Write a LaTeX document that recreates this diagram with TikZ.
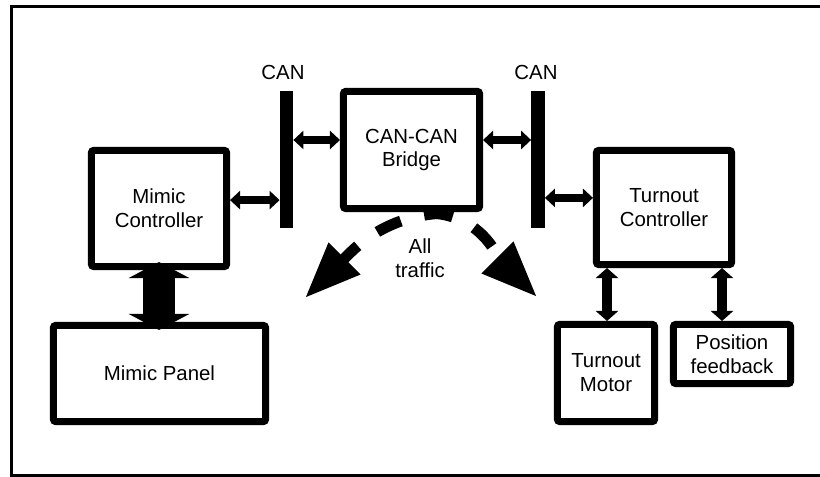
\documentclass[tikz,border=0pt]{standalone}
\usepackage{fontspec}
\setmainfont{Liberation Sans}
\usepackage{tikz}
\usetikzlibrary{shapes,arrows.meta}
\tikzstyle{block} = [rectangle, draw, line width=0.175cm, rounded corners=1.5pt, align=center,
inner sep=0pt, minimum width=3.375cm, minimum height=2.9cm, font=\fontsize{14.5}{17}\selectfont]
\tikzstyle{bus} = [rectangle, fill=black, inner sep=0pt, minimum width=0.33cm, minimum height=3.425cm]
\tikzstyle{tag} = [inner sep=0pt, align=center, font=\fontsize{14.5}{17}\selectfont]
\tikzstyle{link} = [draw, line width=0.2cm, arrows={Triangle[width=0.45cm,length=0.25cm]-Triangle[width=0.45cm,length=0.25cm]}]
\tikzstyle{servolink} = [draw, line width=0.27cm, arrows={Triangle[width=0.55cm,length=0.25cm]-Triangle[width=0.55cm,length=0.25cm]}]
\tikzstyle{panellink} = [draw, line width=0.8cm, arrows={Triangle[width=1.5cm,length=0.4cm]-Triangle[width=1.5cm,length=0.4cm]}]
\tikzstyle{traffic} = [draw, line width=0.275cm, dash pattern=on 0.65cm off 0.6cm, arrows={-Triangle[width=1.05cm,length=1.4cm]}]

\begin{document}
\begin{tikzpicture}[x=0.025cm, y=-0.025cm]
		\useasboundingbox (0,0) rectangle (820,477);
		\draw [line width=0.075cm] (11.5,6.5) rectangle (840,475.5);
		
		\node [block] (mimicctl) at (159,208.5) {Mimic\\Controller};
		\node [block, minimum width=3.4cm, minimum height=2.925cm] (bridge) at (411.5,150) {CAN-CAN\\Bridge};
		\node [block, minimum height=2.85cm] (turnctl) at (664,207.5) {Turnout\\Controller};
		\node [block, minimum width=5.3cm, minimum height=2.4cm] (mimicpanel) at (159.5,373.5) {Mimic Panel};
		\node [block, minimum width=2.425cm, minimum height=2.425cm] (motor) at (606,373) {Turnout\\Motor};
		\node [block, minimum width=2.925cm, minimum height=1.475cm] (posfb) at (732,354) {Position\\feedback};
		
		\node [bus] (canbusL) at (286.5,159.5) {};
		\node [bus] (canbusR) at (538,159.5) {};
		\node [tag] (canL) at (283,72) {CAN};
		\node [tag] (canR) at (536,72) {CAN};
		\node [tag] (alltraffic) at (420,258.5) {All\\traffic};
		
		\coordinate (tapL) at (450,213);
		\coordinate (tapR) at (427,213);
		\coordinate (sinkL) at (305,298);
		\coordinate (sinkR) at (537,297);
		
		\path [link] ([yshift=0.21cm]mimicctl.east) -- ([yshift=0.21cm]mimicctl.east -| canbusL.west);
		\path [link] ([yshift=0.25cm]bridge.west -| canbusL.east) -- ([yshift=0.25cm]bridge.west);
		\path [link] ([yshift=0.25cm]bridge.east) -- ([yshift=0.25cm]bridge.east -| canbusR.west);
		\path [link] ([yshift=0.24cm]turnctl.west -| canbusR.east) -- ([yshift=0.24cm]turnctl.west);
		
		\path [panellink] ([yshift=0.2cm]mimicctl.south) -- ([yshift=-0.2cm]mimicctl.south |- mimicpanel.north);
		\path [servolink] ([xshift=0.025cm]motor.north |- turnctl.south) -- ([xshift=0.025cm]motor.north);
		\path [servolink] ([xshift=-0.25cm]posfb.north |- turnctl.south) -- ([xshift=-0.25cm]posfb.north);
		
		\path [traffic] (tapL) to[out=180,in=45] (sinkL);
		\path [traffic] (tapR) to[out=0,in=135] (sinkR);
\end{tikzpicture}
\end{document}
